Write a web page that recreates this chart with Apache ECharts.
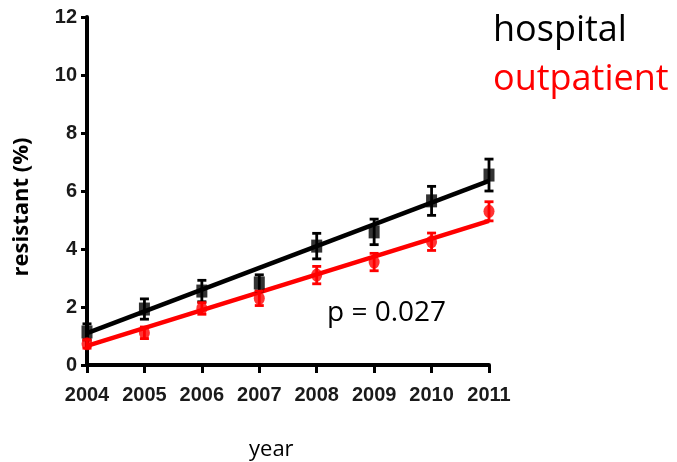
<!DOCTYPE html>
<html><head><meta charset="utf-8">
<script src="https://cdn.jsdelivr.net/npm/echarts@6/dist/echarts.min.js"></script>
<style>html,body{margin:0;padding:0;background:#fff}#c{width:677px;height:462px}</style>
</head><body><div id="c"></div>
<script>
const years = [2004, 2005, 2006, 2007, 2008, 2009, 2010, 2011];
const hospital = [1.14, 1.93, 2.55, 2.83, 4.10, 4.59, 5.66, 6.55];
const hospitalErr = [0.28, 0.35, 0.37, 0.28, 0.44, 0.44, 0.50, 0.55];
const outpatient = [0.73, 1.11, 1.95, 2.30, 3.10, 3.55, 4.25, 5.30];
const outpatientErr = [0.15, 0.20, 0.20, 0.25, 0.30, 0.30, 0.30, 0.33];
const hospitalFit = [[2004, 1.10], [2011, 6.35]];
const outpatientFit = [[2004, 0.66], [2011, 4.97]];
const yTicks = [0, 2, 4, 6, 8, 10, 12];

const tickFont = '"Liberation Sans", Arial, sans-serif';
const chart = echarts.init(document.getElementById('c'));

function errSeries(vals, errs, color) {
  return {
    type: 'custom', z: 3,
    data: years.map((y, i) => [y, vals[i] - errs[i], vals[i] + errs[i]]),
    renderItem: function (params, api) {
      const lo = api.coord([api.value(0), api.value(1)]);
      const hi = api.coord([api.value(0), api.value(2)]);
      const w = 4.5;
      const st = { stroke: color, lineWidth: 2.8 };
      return { type: 'group', children: [
        { type: 'line', shape: { x1: lo[0], y1: lo[1], x2: hi[0], y2: hi[1] }, style: st },
        { type: 'line', shape: { x1: lo[0] - w, y1: lo[1], x2: lo[0] + w, y2: lo[1] }, style: st },
        { type: 'line', shape: { x1: hi[0] - w, y1: hi[1], x2: hi[0] + w, y2: hi[1] }, style: st }
      ]};
    }
  };
}

chart.setOption({
  animation: false,
  grid: { left: 87, right: 188, top: 17, bottom: 97 },
  xAxis: {
    type: 'value', min: 2004, max: 2011, interval: 1,
    axisLine: { show: true, onZero: false, lineStyle: { color: '#000', width: 4 } },
    axisTick: { show: true, length: 8, lineStyle: { color: '#000', width: 3 } },
    axisLabel: { color: '#1a1a1a', fontFamily: tickFont, fontWeight: 'bold', fontSize: 20, margin: 20,
      formatter: v => String(v) },
    splitLine: { show: false }
  },
  yAxis: {
    type: 'value', min: 0, max: 12, interval: 2,
    axisLine: { show: true, lineStyle: { color: '#000', width: 4 } },
    axisTick: { show: true, length: 6, lineStyle: { color: '#000', width: 3 } },
    axisLabel: { color: '#1a1a1a', fontFamily: tickFont, fontWeight: 'bold', fontSize: 20, margin: 10,
      formatter: v => yTicks.includes(v) ? String(v) : '' },
    splitLine: { show: false }
  },
  series: [
    { type: 'line', data: hospitalFit, symbol: 'none', z: 2, lineStyle: { color: '#000', width: 4.5 } },
    { type: 'line', data: outpatientFit, symbol: 'none', z: 2, lineStyle: { color: '#ff0000', width: 4.5 } },
    errSeries(hospital, hospitalErr, '#000'),
    errSeries(outpatient, outpatientErr, '#ff0000'),
    { type: 'scatter', z: 4, symbol: 'rect', symbolSize: [11, 13], itemStyle: { color: '#000' },
      data: years.map((y, i) => [y, hospital[i]]) },
    { type: 'scatter', z: 4, symbol: 'circle', symbolSize: [11, 13], itemStyle: { color: '#ff0000' },
      data: years.map((y, i) => [y, outpatient[i]]) }
  ],
  graphic: [
    { type: 'text', left: 493, top: 13, style: { text: 'hospital', fill: '#000', font: '36px "Open Sans", sans-serif' } },
    { type: 'text', left: 493, top: 62, style: { text: 'outpatient', fill: '#ff0000', font: '36px "Open Sans", sans-serif' } },
    { type: 'text', left: 327, top: 299, style: { text: 'p = 0.027', fill: '#000', font: '28px "Open Sans", sans-serif' } },
    { type: 'text', left: 249, top: 439, style: { text: 'year', fill: '#000', font: '22px "Open Sans", sans-serif' } },
    { type: 'text', x: 22, y: 207, rotation: Math.PI / 2,
      style: { text: 'resistant (%)', fill: '#000', font: 'bold 22px "Open Sans", sans-serif', align: 'center', verticalAlign: 'middle' } }
  ]
});
</script></body></html>
